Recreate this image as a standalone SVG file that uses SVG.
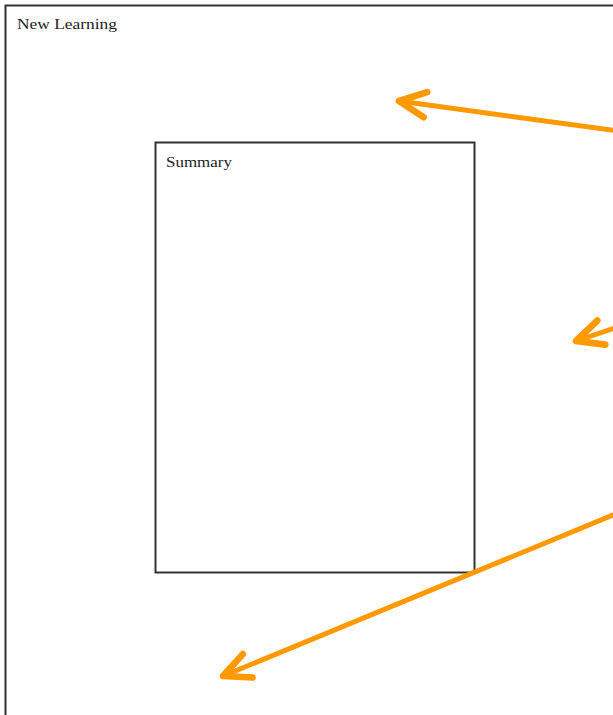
<svg xmlns="http://www.w3.org/2000/svg" width="613" height="715" viewBox="0 0 613 715">
<style>
.box{fill:none;stroke:#333;stroke-width:2}
.lbl{font-family:"Liberation Serif","Times New Roman",serif;font-size:15px;fill:#222}
.arr{fill:none;stroke:#FF9900;stroke-width:5;stroke-linecap:round;stroke-linejoin:round}
</style>
<defs>
<marker id="ah" markerUnits="userSpaceOnUse" markerWidth="40" markerHeight="40" viewBox="-25 -15 30 30" refX="0" refY="0" orient="auto">
<path d="M -20 -9.5 L 0 0 L -20 9.5" fill="none" stroke="#FF9900" stroke-width="5" stroke-linecap="round" stroke-linejoin="round"/>
</marker>
</defs>
<rect x="0" y="0" width="613" height="715" fill="#fff"/>
<g id="new-learning">
<rect class="box" x="5.5" y="5.5" width="640" height="740"/>
<text class="lbl" x="17" y="29" textLength="100" lengthAdjust="spacingAndGlyphs">New Learning</text>
</g>
<g id="summary">
<rect class="box" x="155.5" y="142.5" width="319" height="430"/>
<text class="lbl" x="166" y="167" textLength="66" lengthAdjust="spacingAndGlyphs">Summary</text>
</g>
<g id="connectors">
<line class="arr" x1="618" y1="131" x2="399" y2="101" marker-end="url(#ah)"/>
<line class="arr" x1="618" y1="327" x2="576" y2="341" marker-end="url(#ah)"/>
<line class="arr" x1="618" y1="513" x2="223" y2="676" marker-end="url(#ah)"/>
</g>
</svg>
